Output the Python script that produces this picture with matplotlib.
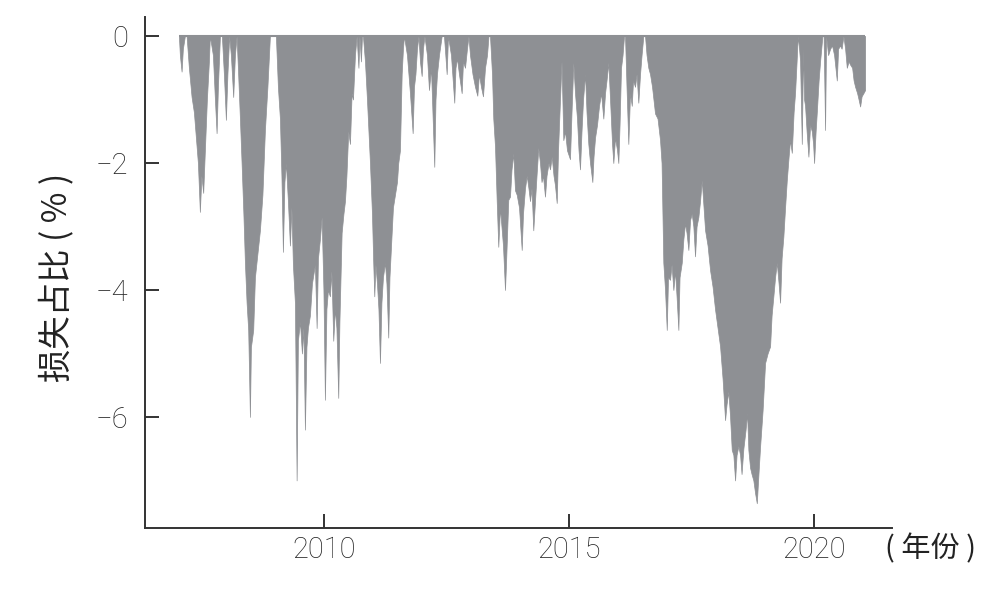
import matplotlib
matplotlib.use('Agg')
import matplotlib.pyplot as plt

# Decimal-year dates and drawdown values (%)
dates = [
    2007.041, 2007.061, 2007.096, 2007.122, 2007.163, 2007.198, 2007.245, 2007.300, 2007.347, 2007.388,
    2007.429, 2007.469, 2007.500, 2007.537, 2007.571, 2007.612, 2007.653, 2007.673, 2007.735, 2007.776,
    2007.810, 2007.837, 2007.878, 2007.918, 2007.959, 2008.000, 2008.031, 2008.067, 2008.102, 2008.149,
    2008.184, 2008.218, 2008.245, 2008.286, 2008.320, 2008.357, 2008.388, 2008.422, 2008.455, 2008.490,
    2008.510, 2008.557, 2008.592, 2008.633, 2008.694, 2008.745, 2008.796, 2008.847, 2008.898,
    2009.020, 2009.061, 2009.102, 2009.133, 2009.163, 2009.194, 2009.224, 2009.265, 2009.306, 2009.337,
    2009.367, 2009.408, 2009.443, 2009.469, 2009.510, 2009.551, 2009.582, 2009.612, 2009.643, 2009.673,
    2009.714, 2009.755, 2009.816, 2009.851, 2009.878, 2009.918, 2009.953, 2009.990, 2010.020, 2010.051,
    2010.082, 2010.122, 2010.153, 2010.190, 2010.224, 2010.255, 2010.292, 2010.316, 2010.361, 2010.398,
    2010.429, 2010.459, 2010.496, 2010.531, 2010.565, 2010.592, 2010.633, 2010.667, 2010.704, 2010.724,
    2010.755, 2010.776, 2010.796,
    2010.837, 2010.878, 2010.939, 2010.980, 2011.006, 2011.027, 2011.051, 2011.082, 2011.112, 2011.143,
    2011.173, 2011.204, 2011.245, 2011.276, 2011.312, 2011.337, 2011.382, 2011.408, 2011.449, 2011.490,
    2011.516, 2011.551, 2011.586, 2011.612, 2011.633,
    2011.694, 2011.755, 2011.810, 2011.837, 2011.867, 2011.898, 2011.929, 2011.959, 2011.994, 2012.020,
    2012.051, 2012.102, 2012.143, 2012.184, 2012.214, 2012.251, 2012.276, 2012.306, 2012.347, 2012.402,
    2012.449, 2012.504, 2012.531, 2012.592, 2012.659, 2012.684, 2012.714, 2012.755, 2012.810, 2012.837,
    2012.878, 2012.918, 2012.949, 2012.980, 2013.031, 2013.082, 2013.129, 2013.163, 2013.204, 2013.245,
    2013.286, 2013.327, 2013.357, 2013.388,
    2013.429, 2013.455, 2013.490, 2013.524, 2013.557, 2013.592, 2013.622, 2013.653, 2013.694, 2013.714,
    2013.761, 2013.796, 2013.827, 2013.863, 2013.898, 2013.933, 2013.980, 2014.035, 2014.061, 2014.102,
    2014.137, 2014.173, 2014.204, 2014.235, 2014.271, 2014.306, 2014.337, 2014.373, 2014.408, 2014.439,
    2014.469, 2014.510, 2014.541, 2014.582, 2014.612, 2014.647, 2014.684, 2014.714, 2014.749, 2014.776,
    2014.816, 2014.847, 2014.884, 2014.918, 2014.959, 2015.020, 2015.051, 2015.088, 2015.122, 2015.163,
    2015.194, 2015.224, 2015.255, 2015.286, 2015.327, 2015.357, 2015.394, 2015.429, 2015.476, 2015.500,
    2015.531, 2015.571, 2015.612, 2015.653, 2015.700, 2015.735, 2015.765, 2015.802, 2015.837, 2015.878,
    2015.904, 2015.939, 2015.980, 2016.006, 2016.031, 2016.061, 2016.092, 2016.122, 2016.143, 2016.173,
    2016.210, 2016.245, 2016.280, 2016.306, 2016.347, 2016.378, 2016.414, 2016.449, 2016.480, 2016.516,
    2016.551,
    2016.582, 2016.618, 2016.653, 2016.694, 2016.755, 2016.806, 2016.857, 2016.888, 2016.924, 2016.959,
    2016.994, 2017.020, 2017.061, 2017.092, 2017.129, 2017.163, 2017.194, 2017.231, 2017.255, 2017.300,
    2017.333, 2017.367, 2017.398, 2017.435, 2017.469, 2017.504, 2017.537, 2017.571, 2017.602, 2017.639,
    2017.673, 2017.708, 2017.745, 2017.776, 2017.827, 2017.878, 2017.929, 2017.980, 2018.031, 2018.082,
    2018.133, 2018.184, 2018.214, 2018.251, 2018.286, 2018.320, 2018.353, 2018.388, 2018.418, 2018.455,
    2018.490, 2018.520, 2018.557, 2018.602, 2018.633, 2018.659, 2018.694, 2018.724, 2018.761, 2018.796,
    2018.831, 2018.857, 2018.898, 2018.949, 2019.000, 2019.051, 2019.102, 2019.133, 2019.169, 2019.204,
    2019.239, 2019.276, 2019.306, 2019.337, 2019.373, 2019.408, 2019.443, 2019.480, 2019.510, 2019.545,
    2019.582, 2019.612, 2019.643, 2019.667,
    2019.694, 2019.714, 2019.749, 2019.776, 2019.796, 2019.816, 2019.847, 2019.884, 2019.918, 2019.953,
    2019.980, 2020.000, 2020.031, 2020.055, 2020.092, 2020.122, 2020.169, 2020.194, 2020.224, 2020.245,
    2020.286, 2020.327, 2020.367, 2020.408, 2020.463, 2020.490, 2020.531, 2020.561, 2020.598, 2020.633,
    2020.667, 2020.704, 2020.735, 2020.776, 2020.806, 2020.837, 2020.878, 2020.908, 2020.939, 2020.969,
    2021.006, 2021.041,
]

drawdown = [
    0.0, -0.3, -0.56, -0.2, 0.0, 0.0, -0.5, -0.96, -1.2, -1.6,
    -2.0, -2.77, -2.2, -2.47, -1.8, -1.0, -0.4, 0.0, -0.3, -1.0,
    -1.53, -0.8, 0.0, 0.0, -0.6, -1.32, -0.6, 0.0, -0.3, -0.96,
    -0.3, 0.0, -0.5, -1.3, -2.0, -2.8, -3.57, -4.2, -4.63, -6.0,
    -4.9, -4.63, -3.8, -3.5, -3.06, -2.5, -1.48, -0.8, 0.0,
    0.0, -0.8, -1.3, -2.2, -3.4, -2.3, -2.0, -2.6, -3.3, -2.7,
    -3.6, -4.2, -7.0, -4.8, -4.5, -5.0, -4.6, -6.2, -4.9, -4.6,
    -4.4, -3.9, -3.6, -4.6, -3.5, -3.2, -2.85, -4.0, -5.73, -4.3,
    -4.0, -4.1, -3.7, -4.8, -4.3, -4.6, -5.7, -4.5, -3.1, -2.8,
    -2.6, -2.2, -1.5, -1.7, -0.9, -1.0, -0.3, 0.0, -0.5, 0.0,
    -0.4, 0.0, 0.0,
    -0.4, -1.0, -2.0, -2.8, -3.57, -4.1, -3.6, -3.9, -4.3, -5.15,
    -4.2, -3.8, -3.57, -3.9, -4.75, -3.8, -3.1, -2.7, -2.5, -2.3,
    -2.0, -1.8, -0.6, -0.2, 0.0,
    -0.3, -0.9, -1.53, -0.8, -0.6, -0.2, 0.0, -0.4, -0.63, -0.2,
    0.0, -0.3, -0.85, -0.5, -1.2, -2.06, -1.0, -0.6, -0.3, 0.0,
    0.0, -0.6, 0.0, -0.3, -1.05, -0.5, -0.35, -0.6, -0.9, -0.4,
    -0.5, -0.2, 0.0, -0.3, -0.6, -0.8, -0.94, -0.6, -0.8, -0.95,
    -0.5, -0.3, 0.0, 0.0,
    -0.6, -1.3, -1.74, -2.58, -3.32, -2.7, -3.0, -3.3, -4.0, -3.6,
    -2.58, -2.53, -2.1, -1.85, -2.43, -2.5, -2.7, -3.37, -2.8, -2.4,
    -2.2, -2.4, -2.6, -2.4, -3.06, -2.6, -2.2, -1.76, -2.0, -2.3,
    -2.2, -2.53, -2.2, -2.0, -2.1, -1.9, -2.2, -2.35, -2.63, -1.8,
    -1.0, -0.4, -1.64, -1.5, -1.8, -1.94, -1.2, -0.42, -0.9, -1.3,
    -1.8, -2.1, -1.5, -1.0, -0.6, -1.2, -1.7, -2.0, -2.3, -1.9,
    -1.6, -1.4, -1.1, -0.9, -1.3, -0.9, -0.7, -0.42, -1.0, -1.7,
    -2.0, -1.6, -1.8, -2.0, -1.4, -0.5, -0.3, 0.0, 0.0, -0.8,
    -1.7, -0.9, -1.1, -0.7, -0.8, -0.6, -1.05, -0.6, -0.3, 0.0,
    0.0,
    -0.3, -0.5, -0.6, -0.8, -1.22, -1.3, -1.64, -2.0, -3.57, -4.0,
    -4.63, -3.8, -3.84, -3.6, -4.0, -3.7, -4.1, -4.63, -3.8, -3.57,
    -3.2, -2.95, -3.1, -3.37, -2.9, -2.8, -3.0, -3.47, -3.0, -2.85,
    -2.6, -2.27, -2.7, -3.06, -3.3, -3.69, -3.95, -4.31, -4.6, -4.89,
    -5.4, -6.05, -5.8, -5.6, -6.0, -6.52, -6.6, -7.0, -6.6, -6.46,
    -6.6, -6.9, -6.5, -6.2, -5.94, -6.52, -6.8, -6.9, -7.0, -7.2,
    -7.36, -7.0, -6.47, -5.9, -5.15, -5.0, -4.89, -4.4, -4.1, -3.8,
    -3.57, -3.9, -4.2, -3.5, -3.16, -2.7, -2.27, -1.9, -1.64, -1.84,
    -1.2, -0.89, -0.4, 0.0,
    -0.2, -0.4, -1.7, -0.2, -1.0, -1.1, -1.5, -1.9, -1.4, -1.5,
    -1.7, -2.0, -1.5, -1.2, -0.7, -0.4, 0.0, 0.0, -1.48, 0.0,
    -0.3, -0.2, -0.15, -0.3, -0.7, -0.2, -0.15, -0.2, 0.0, -0.2,
    -0.5, -0.4, -0.45, -0.5, -0.7, -0.8, -0.9, -1.0, -1.11, -0.95,
    -0.9, -0.85,
]

y_ticks = [0, -2, -4, -6]
y_tick_labels = ['0', '\u22122', '\u22124', '\u22126']
x_ticks = [2010, 2015, 2020]
x_tick_labels = ['2010', '2015', '2020']

fill_color = '#8e9094'
axis_color = '#333333'
text_color = '#222222'

fig = plt.figure(figsize=(10.05, 5.92), dpi=100)
ax = fig.add_axes([0.1443, 0.1081, 0.7433, 0.8632])

ax.fill_between(dates, drawdown, 0, color=fill_color, linewidth=0.5, edgecolor=fill_color)
ax.plot([dates[0], dates[-1]], [0, 0], color=fill_color, lw=1.5, solid_capstyle='butt')

ax.set_xlim(2006.35, 2021.59)
ax.set_ylim(-7.75, 0.30)

ax.set_xticks(x_ticks)
ax.set_xticklabels(x_tick_labels)
ax.set_yticks(y_ticks)
ax.set_yticklabels(y_tick_labels)

for s in ['top', 'right']:
    ax.spines[s].set_visible(False)
for s in ['left', 'bottom']:
    ax.spines[s].set_color(axis_color)
    ax.spines[s].set_linewidth(1.4)

ax.tick_params(axis='both', direction='in', length=10, width=1.4, colors=axis_color,
               labelcolor=text_color, labelsize=21)
ax.tick_params(axis='x', pad=6)
ax.tick_params(axis='y', pad=12)
for lab in ax.get_xticklabels() + ax.get_yticklabels():
    lab.set_family(['Roboto', 'DejaVu Sans'])
    lab.set_fontweight('light')

fig.text(57 / 1005, 1 - 277 / 592, '损失占比 ( % )', rotation=90, ha='center', va='center',
         fontsize=24, family=['Noto Sans CJK SC', 'DejaVu Sans'], fontweight='light',
         color=text_color)
fig.text(885 / 1005, 1 - 549 / 592, '( 年份 )', ha='left', va='center',
         fontsize=21, family=['Noto Sans CJK SC', 'DejaVu Sans'], fontweight='light',
         color=text_color)

fig.savefig('out.png', dpi=100)
